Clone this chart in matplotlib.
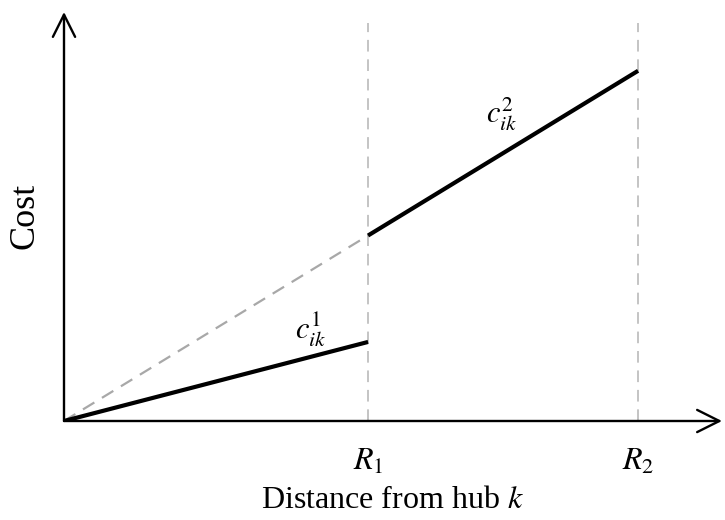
import numpy as np
import matplotlib.pyplot as plt

plt.rcParams['font.family'] = ['Liberation Serif', 'DejaVu Serif']
plt.rcParams['mathtext.fontset'] = 'stix'

# break points (distance from hub) and per-unit cost slopes
R = [1.0, 1.888]
r_labels = [r'$R_1$', r'$R_2$']
slope_c1 = 0.26
slope_c2 = 0.61
x_max = 2.164
y_max = 1.345
y_top_guide = 1.31

fig = plt.figure(figsize=(7.25, 5.2), dpi=100)
ax = fig.add_axes([64 / 725, 99 / 520, 658 / 725, 409 / 520])
ax.set_xlim(0, x_max)
ax.set_ylim(0, y_max)
ax.axis('off')

# axes with open arrow heads
arrow = dict(arrowstyle='->', lw=1.7, color='black', mutation_scale=40, shrinkA=0, shrinkB=0)
ax.annotate('', xy=(x_max, 0), xytext=(0, 0), arrowprops=arrow)
ax.annotate('', xy=(0, y_max), xytext=(0, 0), arrowprops=arrow)

# vertical guides at the break points
for r in R:
    ax.plot([r, r], [0, y_top_guide], color='#c4c4c4', lw=1.4, dashes=(6, 4))

# cost functions
d1 = np.array([0, R[0]])
ax.plot(d1, slope_c2 * d1, color='#a8a8a8', lw=1.6, dashes=(6, 4))
ax.plot(d1, slope_c1 * d1, color='black', lw=3.0, solid_capstyle='butt')
d2 = np.array([R[0], R[1]])
ax.plot(d2, slope_c2 * d2, color='black', lw=3.0, solid_capstyle='butt')

ax.text(0.81, 0.30, r'$c_{ik}^{1}$', fontsize=22, ha='center', va='center')
ax.text(1.44, 1.01, r'$c_{ik}^{2}$', fontsize=22, ha='center', va='center')

for r, lab in zip(R, r_labels):
    ax.text(r, -0.135, lab, fontsize=23, ha='center', va='center')

fig.text(392 / 725, 1 - 501 / 520, r'Distance from hub $k$', fontsize=23, ha='center', va='center')
fig.text(25 / 725, 1 - 216 / 520, 'Cost', fontsize=26, ha='center', va='center', rotation=90)

fig.savefig('out.png', dpi=100)
